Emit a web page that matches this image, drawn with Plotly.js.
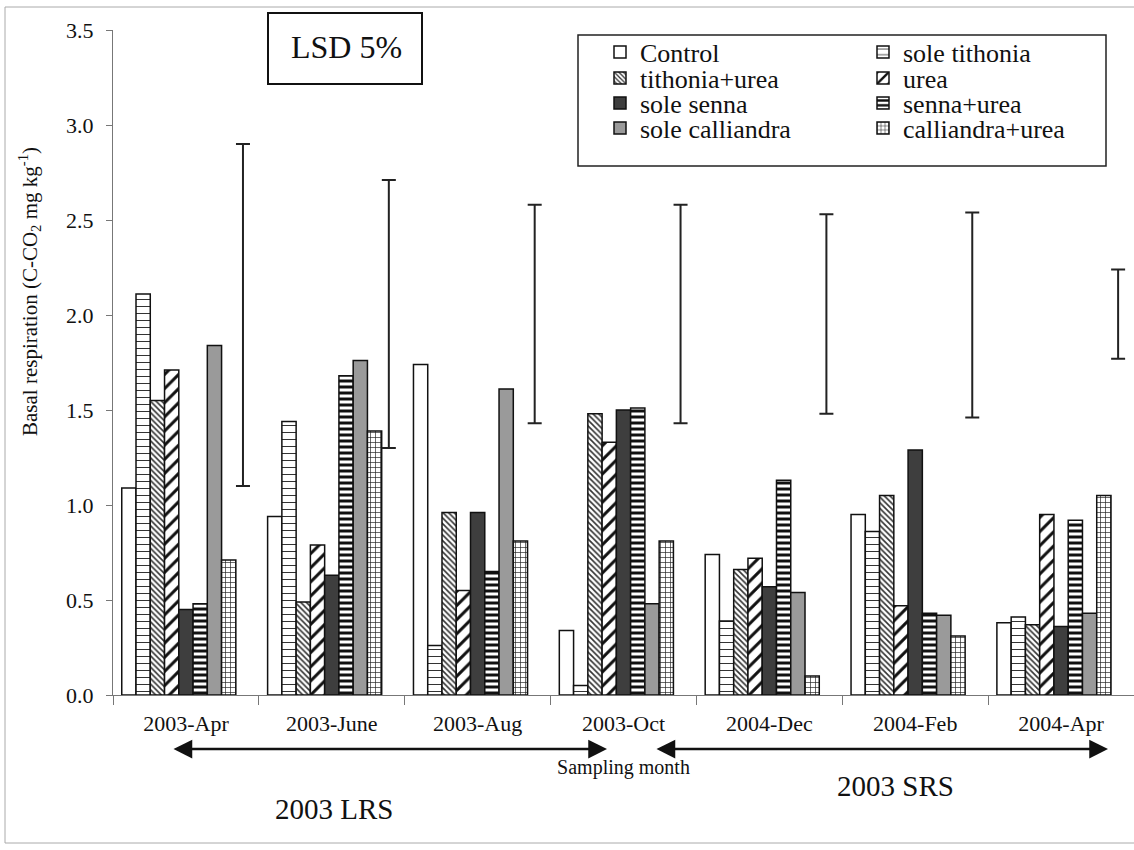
<!DOCTYPE html>
<html>
<head>
<meta charset="utf-8">
<script src="https://cdn.plot.ly/plotly-3.0.1.min.js"></script>
<style>
  html, body { margin: 0; padding: 0; background: #ffffff; }
  #chart { width: 1134px; height: 850px; }
</style>
</head>
<body>
<div id="chart"></div>
<script>
// ---- data ----
var categories = ['2003-Apr', '2003-June', '2003-Aug', '2003-Oct', '2004-Dec', '2004-Feb', '2004-Apr'];
var control        = [1.09, 0.94, 1.74, 0.34, 0.74, 0.95, 0.38];
var soleTithonia   = [2.11, 1.44, 0.26, 0.05, 0.39, 0.86, 0.41];
var tithoniaUrea   = [1.55, 0.49, 0.96, 1.48, 0.66, 1.05, 0.37];
var urea           = [1.71, 0.79, 0.55, 1.33, 0.72, 0.47, 0.95];
var soleSenna      = [0.45, 0.63, 0.96, 1.50, 0.57, 1.29, 0.36];
var sennaUrea      = [0.48, 1.68, 0.65, 1.51, 1.13, 0.43, 0.92];
var soleCalliandra = [1.84, 1.76, 1.61, 0.48, 0.54, 0.42, 0.43];
var calliandraUrea = [0.71, 1.39, 0.81, 0.81, 0.10, 0.31, 1.05];
// LSD 5% bars (lower and upper ends)
var lsdLow  = [1.10, 1.30, 1.43, 1.43, 1.48, 1.46, 1.77];
var lsdHigh = [2.90, 2.71, 2.58, 2.58, 2.53, 2.54, 2.24];

var SERIF = 'Liberation Serif, Times New Roman, serif';
var lineStyle = { color: '#111111', width: 1.5 };

function barTrace(name, values, color, pattern, legendId) {
  var m = { color: color, line: lineStyle };
  if (pattern) m.pattern = pattern;
  return { type: 'bar', name: name, x: categories, y: values, marker: m, legend: legendId };
}

var lsdMid = lsdLow.map(function (v, i) { return (v + lsdHigh[i]) / 2; });
var lsdHalf = lsdLow.map(function (v, i) { return (lsdHigh[i] - v) / 2; });

var traces = [
  barTrace('Control', control, '#ffffff', null, 'legend'),
  barTrace('sole tithonia', soleTithonia, '#ffffff', { shape: '-', fgcolor: '#333', bgcolor: '#ffffff', size: 7, solidity: 0.15 }, 'legend2'),
  barTrace('tithonia+urea', tithoniaUrea, '#ffffff', { shape: '\\', fgcolor: '#333', bgcolor: '#ffffff', size: 4, solidity: 0.4 }, 'legend3'),
  barTrace('urea', urea, '#ffffff', { shape: '/', fgcolor: '#111', bgcolor: '#ffffff', size: 10, solidity: 0.3 }, 'legend4'),
  barTrace('sole senna', soleSenna, '#3e3e3e', null, 'legend5'),
  barTrace('senna+urea', sennaUrea, '#ffffff', { shape: '-', fgcolor: '#111', bgcolor: '#ffffff', size: 6, solidity: 0.5 }, 'legend6'),
  barTrace('sole calliandra', soleCalliandra, '#9a9a9a', null, 'legend7'),
  barTrace('calliandra+urea', calliandraUrea, '#ffffff', { shape: '+', fgcolor: '#222', bgcolor: '#ffffff', size: 5, solidity: 0.25 }, 'legend8'),
  {
    type: 'bar', name: 'LSD 5%', x: categories, y: lsdMid, showlegend: false,
    marker: { color: 'rgba(0,0,0,0)', line: { width: 0 } },
    error_y: { type: 'data', array: lsdHalf, visible: true, color: '#222', thickness: 2, width: 7 },
    hoverinfo: 'skip'
  }
];

// helpers converting picture pixels to paper fractions (plot area 113..1134 x 30..695)
function px(x) { return (x - 113) / 1021; }
function py(y) { return (695 - y) / 665; }

var legendFont = { family: SERIF, size: 26, color: '#111' };
function legendAt(xPix, yPix) {
  return {
    orientation: 'v', x: px(xPix), y: py(yPix), xanchor: 'left', yanchor: 'middle',
    bgcolor: 'rgba(0,0,0,0)', borderwidth: 0, font: legendFont
  };
}
var colText = [600, 863];
var rowY = [52, 78, 103, 128];

var layout = {
  width: 1134, height: 850,
  margin: { l: 113, r: 0, t: 30, b: 155 },
  paper_bgcolor: '#ffffff', plot_bgcolor: 'rgba(0,0,0,0)',
  barmode: 'group', bargap: 0.12, bargroupgap: 0,
  font: { family: SERIF, color: '#111111' },
  xaxis: {
    type: 'category', showline: true, linecolor: '#777', linewidth: 1,
    ticks: 'outside', tickson: 'boundaries', ticklen: 9, tickcolor: '#777',
    ticklabelstandoff: 9,
    showgrid: false, zeroline: false,
    tickfont: { family: SERIF, size: 22, color: '#111' },
    title: { text: 'Sampling month', font: { family: SERIF, size: 20, color: '#111' }, standoff: 24 }
  },
  yaxis: {
    range: [0, 3.5], dtick: 0.5, tickformat: '.1f',
    showline: true, linecolor: '#777', linewidth: 1,
    ticks: 'outside', ticklen: 6, tickcolor: '#777',
    ticklabelstandoff: 8,
    showgrid: false, zeroline: false,
    tickfont: { family: SERIF, size: 22, color: '#111' }
  },
  legend:  legendAt(colText[0], rowY[0]),
  legend2: legendAt(colText[1], rowY[0]),
  legend3: legendAt(colText[0], rowY[1]),
  legend4: legendAt(colText[1], rowY[1]),
  legend5: legendAt(colText[0], rowY[2]),
  legend6: legendAt(colText[1], rowY[2]),
  legend7: legendAt(colText[0], rowY[3]),
  legend8: legendAt(colText[1], rowY[3]),
  shapes: [
    { type: 'rect', xref: 'paper', yref: 'paper', x0: px(268), x1: px(422), y0: py(84), y1: py(13),
      line: { color: '#111', width: 2 }, fillcolor: 'rgba(0,0,0,0)' },
    { type: 'rect', xref: 'paper', yref: 'paper', x0: px(578), x1: px(1106), y0: py(166), y1: py(35),
      line: { color: '#222', width: 1.5 }, fillcolor: 'rgba(0,0,0,0)' },
    { type: 'rect', xref: 'paper', yref: 'paper', x0: px(5), x1: px(1140), y0: py(843), y1: py(7),
      line: { color: '#aaaaaa', width: 1 }, fillcolor: 'rgba(0,0,0,0)' }
  ],
  annotations: [
    { text: 'LSD 5%', xref: 'paper', yref: 'paper', x: px(346), y: py(47), xanchor: 'center', yanchor: 'middle',
      showarrow: false, font: { family: SERIF, size: 32, color: '#111' } },
    { text: 'Basal respiration (C-CO<sub>2</sub> mg kg<sup>-1</sup>)', xref: 'paper', yref: 'paper',
      x: px(30), y: py(292), xanchor: 'center', yanchor: 'middle', textangle: -90, showarrow: false,
      font: { family: SERIF, size: 21, color: '#111' } },
    { text: '', xref: 'paper', yref: 'paper', x: px(607), y: py(749), ax: -435, ay: 0,
      showarrow: true, arrowside: 'end+start', arrowhead: 2, startarrowhead: 2,
      arrowsize: 1.5, startarrowsize: 1.5, arrowwidth: 2.5, arrowcolor: '#111', standoff: 0, startstandoff: 0 },
    { text: '', xref: 'paper', yref: 'paper', x: px(1108), y: py(749), ax: -453, ay: 0,
      showarrow: true, arrowside: 'end+start', arrowhead: 2, startarrowhead: 2,
      arrowsize: 1.5, startarrowsize: 1.5, arrowwidth: 2.5, arrowcolor: '#111', standoff: 0, startstandoff: 0 },
    { text: '2003 LRS', xref: 'paper', yref: 'paper', x: px(334), y: py(809), xanchor: 'center', yanchor: 'middle',
      showarrow: false, font: { family: SERIF, size: 29, color: '#111' } },
    { text: '2003 SRS', xref: 'paper', yref: 'paper', x: px(895), y: py(786), xanchor: 'center', yanchor: 'middle',
      showarrow: false, font: { family: SERIF, size: 29, color: '#111' } }
  ]
};

Plotly.newPlot('chart', traces, layout, { displayModeBar: false, staticPlot: true });
</script>
</body>
</html>
